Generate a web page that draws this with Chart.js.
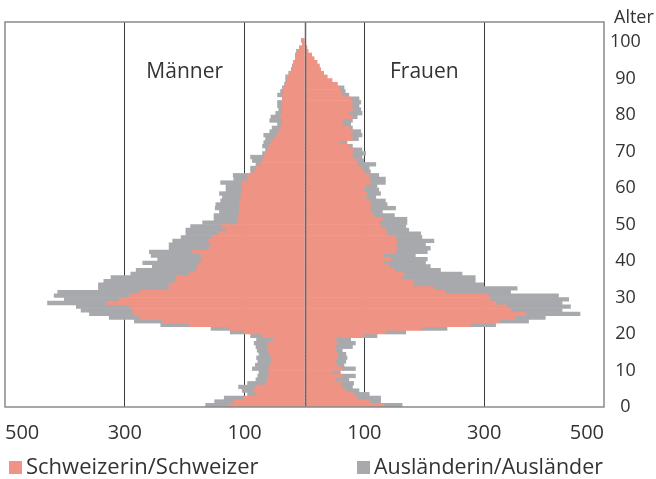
<!DOCTYPE html>
<html>
<head>
<meta charset="utf-8">
<script src="https://cdn.jsdelivr.net/npm/chart.js@4/dist/chart.umd.min.js"></script>
<style>
  html, body { margin: 0; padding: 0; background: #fff; }
  #wrap { width: 656px; height: 479px; position: relative; }
</style>
</head>
<body>
<div id="wrap"><canvas id="pyramid" width="656" height="479"></canvas></div>
<script>
'use strict';
//////////////// data (Alter 0 .. 100)

let ages = [];
for (let a = 0; a <= 100; a++) { ages.push(a); }

let menSwiss = [126, 118, 101, 80, 84, 82, 64, 62, 60, 58,
  60, 58, 55, 56, 58, 62, 62, 60, 52, 70,
  101, 126, 192, 237, 276, 284, 287, 290, 330, 309,
  292, 276, 226, 226, 215, 215, 192, 181, 178, 176,
  170, 173, 187, 159, 156, 160, 154, 145, 131, 138,
  110, 112, 110, 109, 109, 109, 108, 106, 106, 105,
  104, 104, 95, 95, 84, 81, 73, 70, 68, 65,
  62, 59, 56, 51, 45, 43, 40, 37, 37, 40,
  38, 38, 37, 37, 35, 37, 36, 35, 31, 29,
  29, 25, 21, 19, 17, 14, 14, 12, 8, 3,
  5];

let menForeign = [39, 32, 33, 15, 20, 28, 31, 19, 18, 18,
  27, 24, 23, 24, 18, 17, 19, 24, 28, 20,
  23, 30, 48, 47, 50, 75, 86, 91, 99, 92,
  126, 136, 118, 118, 120, 108, 98, 100, 76, 94,
  75, 83, 72, 67, 70, 60, 52, 53, 67, 52,
  60, 39, 41, 33, 40, 39, 32, 31, 36, 26,
  27, 36, 23, 24, 6, 9, 8, 17, 22, 5,
  3, 11, 12, 14, 23, 15, 14, 8, 21, 16,
  10, 5, 8, 8, 2, 8, 4, 2, 2, 2,
  2, 1, 1, 1, 1, 1, 1, 1, 0, 0,
  0];

let womenSwiss = [133, 108, 88, 82, 69, 63, 60, 52, 63, 46,
  63, 55, 52, 55, 55, 52, 52, 55, 52, 99,
  135, 196, 277, 324, 352, 369, 344, 338, 319, 310,
  307, 235, 216, 182, 182, 163, 166, 150, 141, 132,
  144, 132, 152, 155, 152, 155, 152, 138, 135, 127,
  124, 130, 116, 110, 110, 110, 108, 102, 105, 99,
  102, 110, 108, 108, 99, 94, 88, 88, 80, 80,
  82, 74, 57, 80, 77, 80, 74, 63, 63, 80,
  74, 80, 77, 80, 77, 63, 60, 57, 55, 46,
  38, 32, 27, 25, 21, 16, 12, 6, 4, 2,
  1];

let womenForeign = [30, 19, 39, 26, 22, 17, 22, 22, 22, 14,
  22, 11, 17, 16, 14, 11, 28, 30, 25, 22,
  34, 42, 42, 50, 50, 91, 86, 106, 111, 131,
  117, 109, 139, 117, 103, 122, 97, 77, 69, 70,
  61, 53, 53, 55, 50, 61, 44, 56, 39, 42,
  47, 41, 34, 20, 42, 28, 27, 17, 22, 25,
  19, 25, 27, 16, 11, 14, 31, 11, 16, 22,
  14, 6, 14, 10, 19, 14, 6, 14, 17, 8,
  22, 14, 14, 14, 14, 11, 8, 9, 0, 0,
  0, 0, 0, 0, 0, 0, 0, 0, 0, 0,
  0];

let xTicks = [-500, -300, -100, 0, 100, 300, 500];
let yTicks = [0, 10, 20, 30, 40, 50, 60, 70, 80, 90, 100];

let seriesNames = ['Schweizerin/Schweizer', 'Ausländerin/Ausländer'];
let sideNames = ['Männer', 'Frauen'];
let axisTitle = 'Alter';

let salmon = '#EF9384';
let grey = '#A7A9AC';
let textColor = '#333333';
let fontFamily = '"Open Sans", "Liberation Sans", sans-serif';

/////////////// helpers

function toPoints (values, sign) {
  return values.map((v, i) => ({ x: sign * v, y: ages[i] + 0.5 }));
}

function makeSet (label, values, sign, color) {
  return {
    label: label,
    data: toPoints(values, sign),
    backgroundColor: color,
    borderWidth: 0,
    barPercentage: 1,
    categoryPercentage: 1,
    stack: 'pyramid'
  };
}

/////////////// extra drawing (frame, middle line, labels, legend)

let decorations = {
  id: 'decorations',
  afterDatasetsDraw (chart) {
    let ctx = chart.ctx;
    let area = chart.chartArea;
    let xs = chart.scales.x;
    let ys = chart.scales.y;
    ctx.save();
    // middle line over the bars
    let mid = Math.round(xs.getPixelForValue(0)) + 0.5;
    ctx.strokeStyle = '#666';
    ctx.lineWidth = 1.5;
    ctx.beginPath();
    ctx.moveTo(mid, area.top);
    ctx.lineTo(mid, area.bottom);
    ctx.stroke();
    // frame
    ctx.strokeStyle = '#8a8a8a';
    ctx.lineWidth = 1.5;
    ctx.strokeRect(area.left, area.top, area.right - area.left, area.bottom - area.top);
    // Männer / Frauen
    ctx.fillStyle = textColor;
    ctx.font = '21px ' + fontFamily;
    ctx.textAlign = 'center';
    ctx.textBaseline = 'middle';
    ctx.fillText(sideNames[0], xs.getPixelForValue(-200), ys.getPixelForValue(91.8));
    ctx.fillText(sideNames[1], xs.getPixelForValue(200), ys.getPixelForValue(91.8));
    // Alter
    ctx.font = '18px ' + fontFamily;
    ctx.textAlign = 'left';
    ctx.fillText(axisTitle, 614, 18);
    // legend
    let colors = [salmon, grey];
    let boxX = [9, 357];
    let textW = [240, 229];
    ctx.font = '22px ' + fontFamily;
    for (let i = 0; i < 2; i++) {
      ctx.fillStyle = colors[i];
      ctx.fillRect(boxX[i], 461, 13, 13);
      ctx.fillStyle = textColor;
      ctx.textAlign = 'left';
      ctx.fillText(seriesNames[i], boxX[i] + 17, 467.5, textW[i]);
    }
    ctx.restore();
  }
};

/////////////// chart

let ctx = document.getElementById('pyramid').getContext('2d');
let pyramid = new Chart(ctx, {
  type: 'bar',
  data: {
    datasets: [
      makeSet(seriesNames[0], menSwiss, -1, salmon),
      makeSet(seriesNames[1], menForeign, -1, grey),
      makeSet(seriesNames[0], womenSwiss, 1, salmon),
      makeSet(seriesNames[1], womenForeign, 1, grey)
    ]
  },
  options: {
    indexAxis: 'y',
    responsive: false,
    animation: false,
    devicePixelRatio: 1,
    layout: { padding: { left: 5, top: 22, right: 0, bottom: 32 } },
    plugins: {
      legend: { display: false },
      tooltip: { enabled: false }
    },
    scales: {
      x: {
        type: 'linear',
        stacked: true,
        offset: false,
        min: -500,
        max: 500,
        afterBuildTicks: (scale) => { scale.ticks = xTicks.map(v => ({ value: v })); },
        afterFit: (scale) => {
          scale.height = 40;
          scale.paddingLeft = 0;
          scale.paddingRight = 0;
        },
        border: { display: false },
        grid: {
          offset: false,
          drawTicks: false,
          lineWidth: 1,
          color: (c) => (Math.abs(c.tick.value) === 500 || c.tick.value === 0) ? 'rgba(0,0,0,0)' : '#3a3a3a'
        },
        ticks: {
          autoSkip: false,
          maxRotation: 0,
          align: 'inner',
          padding: 14,
          color: textColor,
          font: { family: fontFamily, size: 20 },
          callback: (v) => v === 0 ? '' : String(Math.abs(v))
        }
      },
      y: {
        type: 'linear',
        position: 'right',
        stacked: true,
        offset: false,
        min: 0,
        max: 105.5,
        afterBuildTicks: (scale) => { scale.ticks = yTicks.map(v => ({ value: v })); },
        afterFit: (scale) => {
          scale.width = 52;
          scale.paddingTop = 0;
          scale.paddingBottom = 0;
        },
        border: { display: false },
        grid: { display: false, drawTicks: false, offset: false },
        ticks: {
          crossAlign: 'center',
          padding: 6,
          color: textColor,
          font: { family: fontFamily, size: 18 }
        }
      }
    }
  },
  plugins: [decorations]
});
</script>
</body>
</html>
